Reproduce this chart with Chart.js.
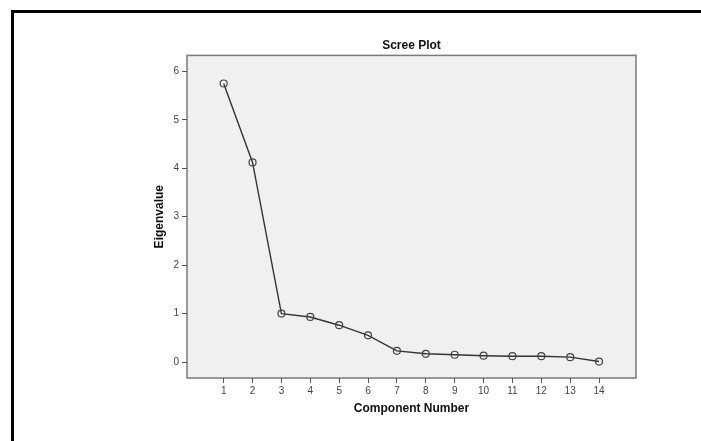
<!DOCTYPE html>
<html>
<head>
<meta charset="utf-8">
<script src="https://cdn.jsdelivr.net/npm/chart.js@4"></script>
<style>
  html, body { margin: 0; padding: 0; background: #fff; }
  #wrap { position: relative; width: 701px; height: 441px; }
  #frame { position: absolute; left: 11px; top: 10px; right: 0; bottom: 0;
           border-top: 3px solid #000; border-left: 3px solid #000; pointer-events: none; }
  canvas { position: absolute; left: 0; top: 0; }
</style>
</head>
<body>
<div id="wrap">
  <canvas id="scree" width="701" height="441"></canvas>
  <div id="frame"></div>
</div>
<script>
// component numbers and their eigenvalues
const components = [1, 2, 3, 4, 5, 6, 7, 8, 9, 10, 11, 12, 13, 14];
const eigenvalues = [5.75, 4.12, 1.00, 0.93, 0.76, 0.55, 0.23, 0.17, 0.15, 0.13, 0.12, 0.12, 0.10, 0.01];
const yTicks = [0, 1, 2, 3, 4, 5, 6];

// plot area: light grey fill + grey frame, like SPSS
const plotBox = {
  id: 'plotBox',
  beforeDraw(chart) {
    const { ctx, chartArea: a } = chart;
    ctx.save();
    ctx.fillStyle = '#f0f0f0';
    ctx.fillRect(a.left, a.top, a.right - a.left, a.bottom - a.top);
    ctx.strokeStyle = '#7a7a7a';
    ctx.lineWidth = 1.5;
    ctx.strokeRect(a.left, a.top, a.right - a.left, a.bottom - a.top);
    ctx.restore();
  }
};

const tickFont = { family: 'Liberation Sans, Arial, sans-serif', size: 10 };
const boldFont = { family: 'Liberation Sans, Arial, sans-serif', size: 12, weight: 'bold' };

new Chart(document.getElementById('scree'), {
  type: 'line',
  data: {
    datasets: [{
      data: components.map((c, i) => ({ x: c, y: eigenvalues[i] })),
      borderColor: '#333',
      borderWidth: 1.4,
      pointRadius: 3.5,
      pointBorderWidth: 1.2,
      pointBorderColor: '#444',
      pointBackgroundColor: 'rgba(0,0,0,0)',
      tension: 0
    }]
  },
  plugins: [plotBox],
  options: {
    responsive: false,
    animation: false,
    layout: { padding: { left: 148, right: 65, top: 0, bottom: 21 } },
    plugins: {
      legend: { display: false },
      tooltip: { enabled: false },
      title: {
        display: true,
        fullSize: false,
        text: 'Scree Plot',
        color: '#111',
        font: boldFont,
        padding: { top: 38, bottom: 3 }
      }
    },
    scales: {
      x: {
        type: 'linear',
        min: -0.27,
        max: 15.28,
        afterBuildTicks: s => { s.ticks = components.map(v => ({ value: v })); },
        afterFit: s => { s.height = 441 - 378 - 21; },
        grid: { drawOnChartArea: false, drawTicks: true, tickLength: 5, color: '#555', lineWidth: 1 },
        border: { display: false },
        ticks: { color: '#444', font: tickFont, padding: 2, maxRotation: 0, autoSkip: false },
        title: { display: true, text: 'Component Number', color: '#111', font: boldFont }
      },
      y: {
        min: -0.33,
        max: 6.33,
        afterBuildTicks: s => { s.ticks = yTicks.map(v => ({ value: v })); },
        afterFit: s => { s.width = 187 - 148; },
        grid: { drawOnChartArea: false, drawTicks: true, tickLength: 5, color: '#555', lineWidth: 1 },
        border: { display: false },
        ticks: { color: '#444', font: tickFont, padding: 3 },
        title: { display: true, text: 'Eigenvalue', color: '#111', font: boldFont }
      }
    }
  }
});
</script>
</body>
</html>
